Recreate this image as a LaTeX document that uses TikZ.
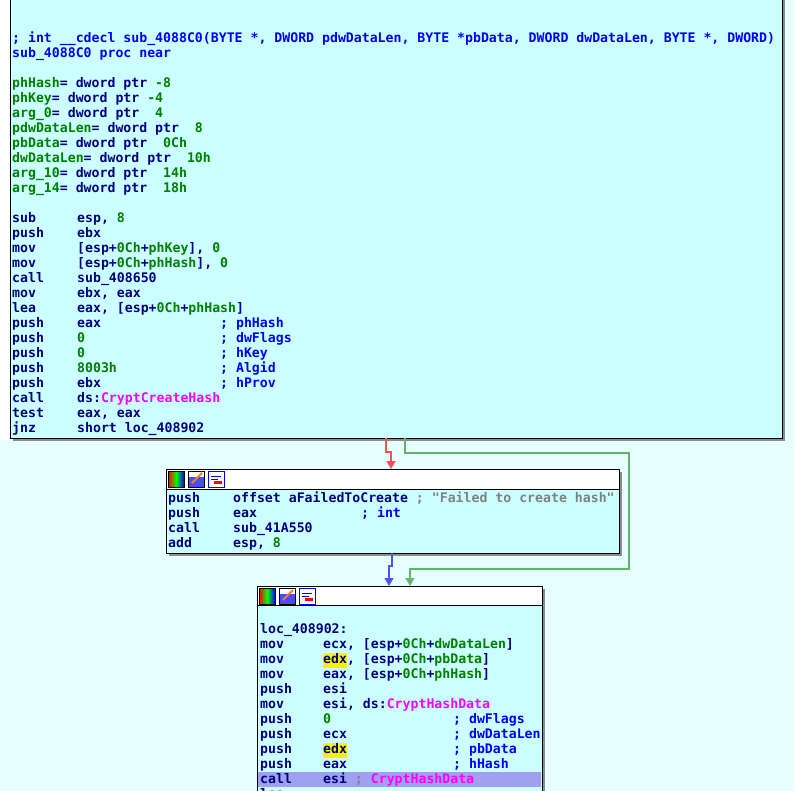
\documentclass[tikz,border=0pt]{standalone}
\usepackage{fontspec}
\setmonofont{DejaVu Sans Mono}
\usetikzlibrary{arrows.meta}
\definecolor{cN}{RGB}{0,0,128}
\definecolor{cG}{RGB}{0,128,0}
\definecolor{cB}{RGB}{0,0,255}
\definecolor{cM}{RGB}{255,0,255}
\definecolor{cY}{RGB}{128,128,128}
\definecolor{bgc}{RGB}{232,255,255}
\definecolor{boxc}{RGB}{204,255,255}
\definecolor{hil}{RGB}{160,160,240}
\definecolor{ered}{RGB}{255,80,80}
\definecolor{egrn}{RGB}{100,180,110}
\definecolor{eblu}{RGB}{80,80,255}
\newcommand\cN[1]{\textcolor{cN}{#1}}
\newcommand\cG[1]{\textcolor{cG}{#1}}
\newcommand\cB[1]{\textcolor{cB}{#1}}
\newcommand\cM[1]{\textcolor{cM}{#1}}
\newcommand\cY[1]{\textcolor{cY}{#1}}
\newcommand\hy[1]{{\setlength\fboxsep{0pt}\colorbox{yellow}{\strut #1}}}
\newcommand\Tx[3]{\node[txt] at (#1,#2+4.5) {#3};}
\newcommand\Icons[2]{%
  \shade[left color=red,right color=blue,middle color=green] (#1,#2) rectangle ++(16,16);
  \draw[black] (#1,#2) rectangle ++(16,16);
  \fill[cB!70] (#1+20,#2+6) rectangle ++(16,10); \draw (#1+20,#2) rectangle ++(16,16);
  \draw[orange,line width=2pt] (#1+24,#2+12) -- (#1+34,#2+2);
  \fill[white] (#1+40,#2) rectangle ++(16,16); \draw[cB] (#1+40,#2) rectangle ++(16,16);
  \draw[cB] (#1+43,#2+5) -- (#1+53,#2+5) (#1+43,#2+8) -- (#1+50,#2+8);
  \fill[red] (#1+46,#2+10) rectangle ++(8,3);}
\tikzset{txt/.style={anchor=base west,inner sep=0pt,font=\ttfamily\bfseries\fontsize{13.2}{15}\selectfont,text=cN},
  blk/.style={draw=black,fill=boxc,line width=1pt},
  shd/.style={fill=black!45},
  edge/.style={line width=1.2pt,-{Triangle[length=8pt,width=9pt]}}}
\begin{document}
\begin{tikzpicture}[x=1pt,y=-1pt]
\useasboundingbox (0,0) rectangle (794,791);
\fill[bgc] (0,0) rectangle (794,791);
\fill[white] (0,0) rectangle (9,440);
% top block
\fill[shd] (13,-5) rectangle (785,441);
\node[blk,minimum width=772,minimum height=443,inner sep=0pt,anchor=north west] (top) at (10,-5) {};
% middle block
\fill[shd] (169,472) rectangle (622,556);
\node[draw=black,fill=white,line width=1pt,minimum width=453,minimum height=84,inner sep=0pt,anchor=north west] (mid) at (166,469) {};
\fill[boxc] (166.5,489) rectangle (618.5,552.5);
\draw[line width=1pt] (166,489) -- (619,489);
\Icons{168}{471}
% bottom block
\fill[shd] (260,589) rectangle (545,795);
\node[draw=black,fill=white,line width=1pt,minimum width=285,minimum height=215,inner sep=0pt,anchor=north west] (bot) at (257,586) {};
\fill[boxc] (257.5,605) rectangle (541.5,795);
\draw[line width=1pt] (257,605) -- (542,605);
\Icons{259}{588}
\fill[hil] (258,772) rectangle (541,787);
% edges
\coordinate (r1) at (386,438); \coordinate (r2) at (386,452); \coordinate (r3) at (391,452);
\coordinate (g1) at (405,438);
\coordinate (b1) at (392,553);
\draw[edge,ered] (r1) -- (r2) -- (r3) -- (391,469);
\draw[edge,egrn] (g1) -- (405,453) -- (629,453) -- (629,569) -- (410,569) -- (410,586);
\draw[edge,eblu] (b1) -- (392,566) -- (389,566) -- (389,586);
% top text
\Tx{12}{38}{\cB{; int \_\_cdecl sub\_4088C0(BYTE *, DWORD pdwDataLen, BYTE *pbData, DWORD dwDataLen, BYTE *, DWORD)}}
\Tx{12}{53}{\cB{sub\_4088C0 proc near}}
\Tx{12}{83}{\cG{phHash}= dword ptr \cG{-8}}
\Tx{12}{98}{\cG{phKey}= dword ptr \cG{-4}}
\Tx{12}{113}{\cG{arg\_0}= dword ptr ~\cG{4}}
\Tx{12}{128}{\cG{pdwDataLen}= dword ptr ~\cG{8}}
\Tx{12}{143}{\cG{pbData}= dword ptr ~\cG{0Ch}}
\Tx{12}{158}{\cG{dwDataLen}= dword ptr ~\cG{10h}}
\Tx{12}{173}{\cG{arg\_10}= dword ptr ~\cG{14h}}
\Tx{12}{188}{\cG{arg\_14}= dword ptr ~\cG{18h}}
\Tx{12}{218}{sub}\Tx{77}{218}{esp, \cG{8}}
\Tx{12}{233}{push}\Tx{77}{233}{ebx}
\Tx{12}{248}{mov}\Tx{77}{248}{[esp+\cG{0Ch}+\cG{phKey}], \cG{0}}
\Tx{12}{263}{mov}\Tx{77}{263}{[esp+\cG{0Ch}+\cG{phHash}], \cG{0}}
\Tx{12}{278}{call}\Tx{77}{278}{sub\_408650}
\Tx{12}{293}{mov}\Tx{77}{293}{ebx, eax}
\Tx{12}{308}{lea}\Tx{77}{308}{eax, [esp+\cG{0Ch}+\cG{phHash}]}
\Tx{12}{323}{push}\Tx{77}{323}{eax}\Tx{220}{323}{\cB{; phHash}}
\Tx{12}{338}{push}\Tx{77}{338}{\cG{0}}\Tx{220}{338}{\cB{; dwFlags}}
\Tx{12}{353}{push}\Tx{77}{353}{\cG{0}}\Tx{220}{353}{\cB{; hKey}}
\Tx{12}{368}{push}\Tx{77}{368}{\cG{8003h}}\Tx{220}{368}{\cB{; Algid}}
\Tx{12}{383}{push}\Tx{77}{383}{ebx}\Tx{220}{383}{\cB{; hProv}}
\Tx{12}{398}{call}\Tx{77}{398}{ds:\cM{CryptCreateHash}}
\Tx{12}{413}{test}\Tx{77}{413}{eax, eax}
\Tx{12}{428}{jnz}\Tx{77}{428}{short loc\_408902}
% middle text
\Tx{168}{498}{push}\Tx{233}{498}{offset aFailedToCreate \cY{; "Failed to create hash"}}
\Tx{168}{513}{push}\Tx{233}{513}{eax}\Tx{361}{513}{\cB{; int}}
\Tx{168}{528}{call}\Tx{233}{528}{sub\_41A550}
\Tx{168}{543}{add}\Tx{233}{543}{esp, \cG{8}}
% bottom text
\Tx{260}{629}{loc\_408902:}
\Tx{260}{644}{mov}\Tx{323}{644}{ecx, [esp+\cG{0Ch}+\cG{dwDataLen}]}
\Tx{260}{659}{mov}\Tx{323}{659}{\hy{edx}, [esp+\cG{0Ch}+\cG{pbData}]}
\Tx{260}{674}{mov}\Tx{323}{674}{eax, [esp+\cG{0Ch}+\cG{phHash}]}
\Tx{260}{689}{push}\Tx{323}{689}{esi}
\Tx{260}{704}{mov}\Tx{323}{704}{esi, ds:\cM{CryptHashData}}
\Tx{260}{719}{push}\Tx{323}{719}{\cG{0}}\Tx{453}{719}{\cB{; dwFlags}}
\Tx{260}{734}{push}\Tx{323}{734}{ecx}\Tx{453}{734}{\cB{; dwDataLen}}
\Tx{260}{749}{push}\Tx{323}{749}{\hy{edx}}\Tx{453}{749}{\cB{; pbData}}
\Tx{260}{764}{push}\Tx{323}{764}{eax}\Tx{453}{764}{\cB{; hHash}}
\Tx{260}{779}{call}\Tx{323}{779}{esi \cY{;} \cM{CryptHashData}}
\Tx{260}{794}{lea}
\end{tikzpicture}
\end{document}
